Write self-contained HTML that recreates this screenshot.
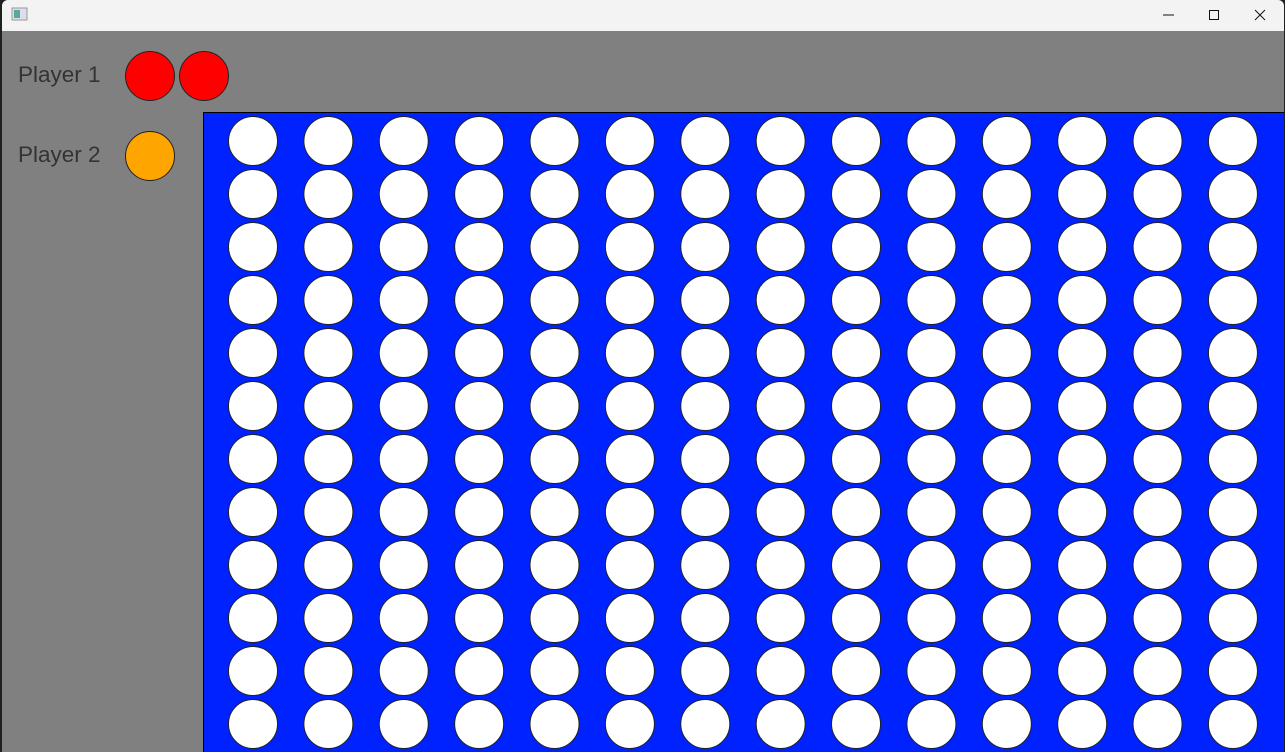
<!DOCTYPE html>
<html><head><meta charset="utf-8"><style>
html,body{margin:0;padding:0;width:1285px;height:752px;overflow:hidden;background:#202020;font-family:"Liberation Sans",sans-serif}
#win{position:absolute;left:2px;top:0;width:1282px;height:752px;background:#808080;border-radius:6px 6px 0 0;overflow:hidden}
#title{position:absolute;left:0;top:0;width:100%;height:31px;background:#f3f3f3}
.lbl{position:absolute;left:16px;font-size:22.5px;color:#333}
</style></head><body>
<div id="win">
<div id="title">
 <svg width="1282" height="31" style="position:absolute;left:0;top:0">
  <g><rect x="10" y="8" width="15" height="12" fill="#dde" stroke="#999"/><rect x="12" y="10" width="6" height="8" fill="#5a9"/></g>
  <line x1="1161" y1="15" x2="1172" y2="15" stroke="#111"/>
  <rect x="1207.5" y="10.5" width="9" height="9" fill="none" stroke="#111"/>
  <path d="M1253 10 L1263 20 M1263 10 L1253 20" stroke="#111"/>
 </svg>
</div>
<div class="lbl" style="top:62px">Player 1</div>
<div class="lbl" style="top:142px">Player 2</div>
<svg id="s" width="1282" height="752" style="position:absolute;left:0;top:0"></svg>
</div>
<script>
const cols=14, rows=12;
const p1Pieces=[1,1], p2Pieces=[1];
const s=document.getElementById('s');const NS='http://www.w3.org/2000/svg';
function circ(cx,cy,r,fill){const c=document.createElementNS(NS,'circle');c.setAttribute('cx',cx);c.setAttribute('cy',cy);c.setAttribute('r',r);c.setAttribute('fill',fill);c.setAttribute('stroke','#222');c.setAttribute('stroke-width','1');s.appendChild(c);return c;}
p1Pieces.forEach((p,i)=>{const c=circ(148+i*54,76,24.5,'#ff0000');

});
p2Pieces.forEach((p,i)=>{const c=circ(148+i*54,156,24.5,'#ffa500');

});
const b=document.createElementNS(NS,'rect');b.setAttribute('x',201.5);b.setAttribute('y',112.5);b.setAttribute('width',1090);b.setAttribute('height',650);b.setAttribute('fill','#0022ff');b.setAttribute('stroke','#000');s.appendChild(b);


for(let r=0;r<rows;r++)for(let c=0;c<cols;c++){const e=circ(251+c*75.38,141+r*53,24.5,'#ffffff');

}
</script>
</body></html>
